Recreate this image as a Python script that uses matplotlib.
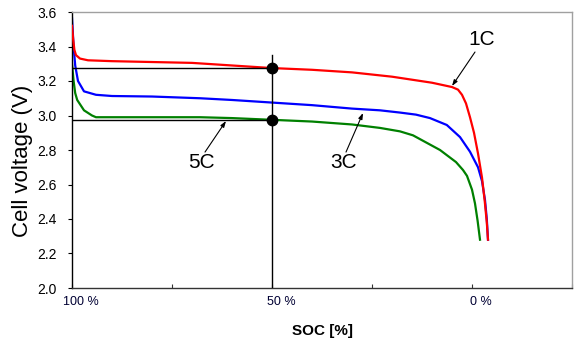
import matplotlib.pyplot as plt
import matplotlib.transforms as mtransforms

plt.rcParams["font.family"] = ["Liberation Sans", "DejaVu Sans"]

# discharge curves, SOC in % vs cell voltage in V
soc_1c = [100, 99.7, 99.4, 99, 98, 96, 90, 80, 70, 60, 50, 40, 30, 20, 10, 5,
          3.5, 2.5, 1.5, 0.5, -0.5, -1.5, -2.5, -3.2, -3.7, -4.0]
volt_1c = [3.52, 3.44, 3.38, 3.35, 3.33, 3.32, 3.315, 3.31, 3.305, 3.29, 3.275,
           3.265, 3.25, 3.225, 3.19, 3.165, 3.15, 3.12, 3.07, 2.99, 2.90, 2.78,
           2.64, 2.50, 2.38, 2.28]

soc_3c = [100, 99.6, 99.2, 98.5, 97, 94, 90, 80, 68, 60, 50, 40, 30, 23, 18,
          14, 10.5, 6.3, 3, 0.5, -1.5, -2.5, -3.25, -3.7, -4.0]
volt_3c = [3.565, 3.40, 3.29, 3.20, 3.14, 3.12, 3.113, 3.11, 3.10, 3.09, 3.075,
           3.06, 3.04, 3.03, 3.017, 3.005, 2.985, 2.945, 2.875, 2.79, 2.70,
           2.62, 2.51, 2.40, 2.28]

soc_5c = [100, 99.6, 99.2, 98.7, 97, 95, 94, 90, 80, 68, 60, 50, 40, 30, 23,
          18, 14.75, 8, 4, 2.25, 1.25, 0, -0.75, -1.4, -2.0]
volt_5c = [3.30, 3.20, 3.13, 3.09, 3.03, 3.00, 2.99, 2.99, 2.99, 2.99, 2.985,
           2.975, 2.965, 2.948, 2.928, 2.908, 2.885, 2.80, 2.73, 2.684, 2.65,
           2.57, 2.49, 2.39, 2.28]

# readout at 50 % SOC
soc_mark = 50
volt_marks = [3.275, 2.975]

x_ticks = [100, 75, 50, 25, 0, -25]
x_tick_labels = ["100 %", "", "50 %", "", "0 %", ""]
y_ticks = [2.0, 2.2, 2.4, 2.6, 2.8, 3.0, 3.2, 3.4, 3.6]

fig = plt.figure(figsize=(5.77, 3.39), dpi=100, facecolor="white")
ax = fig.add_axes([72 / 577, 51 / 339, 500 / 577, 276 / 339])

ax.plot(soc_1c, volt_1c, color="#ff0000", linewidth=1.6, zorder=3)
ax.plot(soc_3c, volt_3c, color="#0000ff", linewidth=1.6, zorder=2)
ax.plot(soc_5c, volt_5c, color="#008000", linewidth=1.6, zorder=2)

# guide lines through the 50 % points
ax.plot([soc_mark, soc_mark], [2.0, 3.35], color="black", linewidth=1.0, zorder=4)
for v in volt_marks:
    ax.plot([100, soc_mark], [v, v], color="black", linewidth=1.0, zorder=4)
ax.plot([soc_mark] * len(volt_marks), volt_marks, "o", color="black",
        markersize=7.5, zorder=5)

arrow = dict(arrowstyle="-|>,head_length=0.35,head_width=0.12", color="black",
             linewidth=0.8, shrinkA=0, shrinkB=0)
ax.annotate("", xy=(5, 3.171), xytext=(-0.75, 3.368), arrowprops=arrow)
ax.annotate("", xy=(27.25, 3.0145), xytext=(31.5, 2.788), arrowprops=arrow)
ax.annotate("", xy=(61.5, 2.968), xytext=(66.75, 2.788), arrowprops=arrow)
ax.text(-2.5, 3.438, "1C", fontsize=15, ha="center", va="center")
ax.text(32, 2.730, "3C", fontsize=15, ha="center", va="center")
ax.text(67.75, 2.730, "5C", fontsize=15, ha="center", va="center")

ax.set_xlim(100, -25)
ax.set_ylim(2.0, 3.6)
ax.set_xticks(x_ticks)
ax.set_xticklabels(x_tick_labels, fontsize=9, color="#000033")
ax.set_yticks(y_ticks)
ax.set_yticklabels([f"{t:.1f}" for t in y_ticks], fontsize=10)
ax.tick_params(axis="x", direction="in", length=3, pad=6, color="#333333")
ax.tick_params(axis="y", direction="out", length=3, pad=8)

offset = mtransforms.ScaledTranslation(9 / 100, 0, fig.dpi_scale_trans)
for label in ax.get_xticklabels():
    label.set_transform(label.get_transform() + offset)

ax.set_xlabel("SOC [%]", fontsize=11, fontweight="bold", labelpad=11)
ax.set_ylabel("Cell voltage (V)", fontsize=16)
ax.yaxis.set_label_coords(-0.078, 0.46)

ax.spines["left"].set_color("black")
ax.spines["bottom"].set_color("#333333")
ax.spines["top"].set_color("#a0a0a0")
ax.spines["right"].set_color("#a0a0a0")
for side in ["left", "bottom", "top", "right"]:
    ax.spines[side].set_linewidth(1.0)

fig.savefig("out.png", dpi=100, facecolor="white")
